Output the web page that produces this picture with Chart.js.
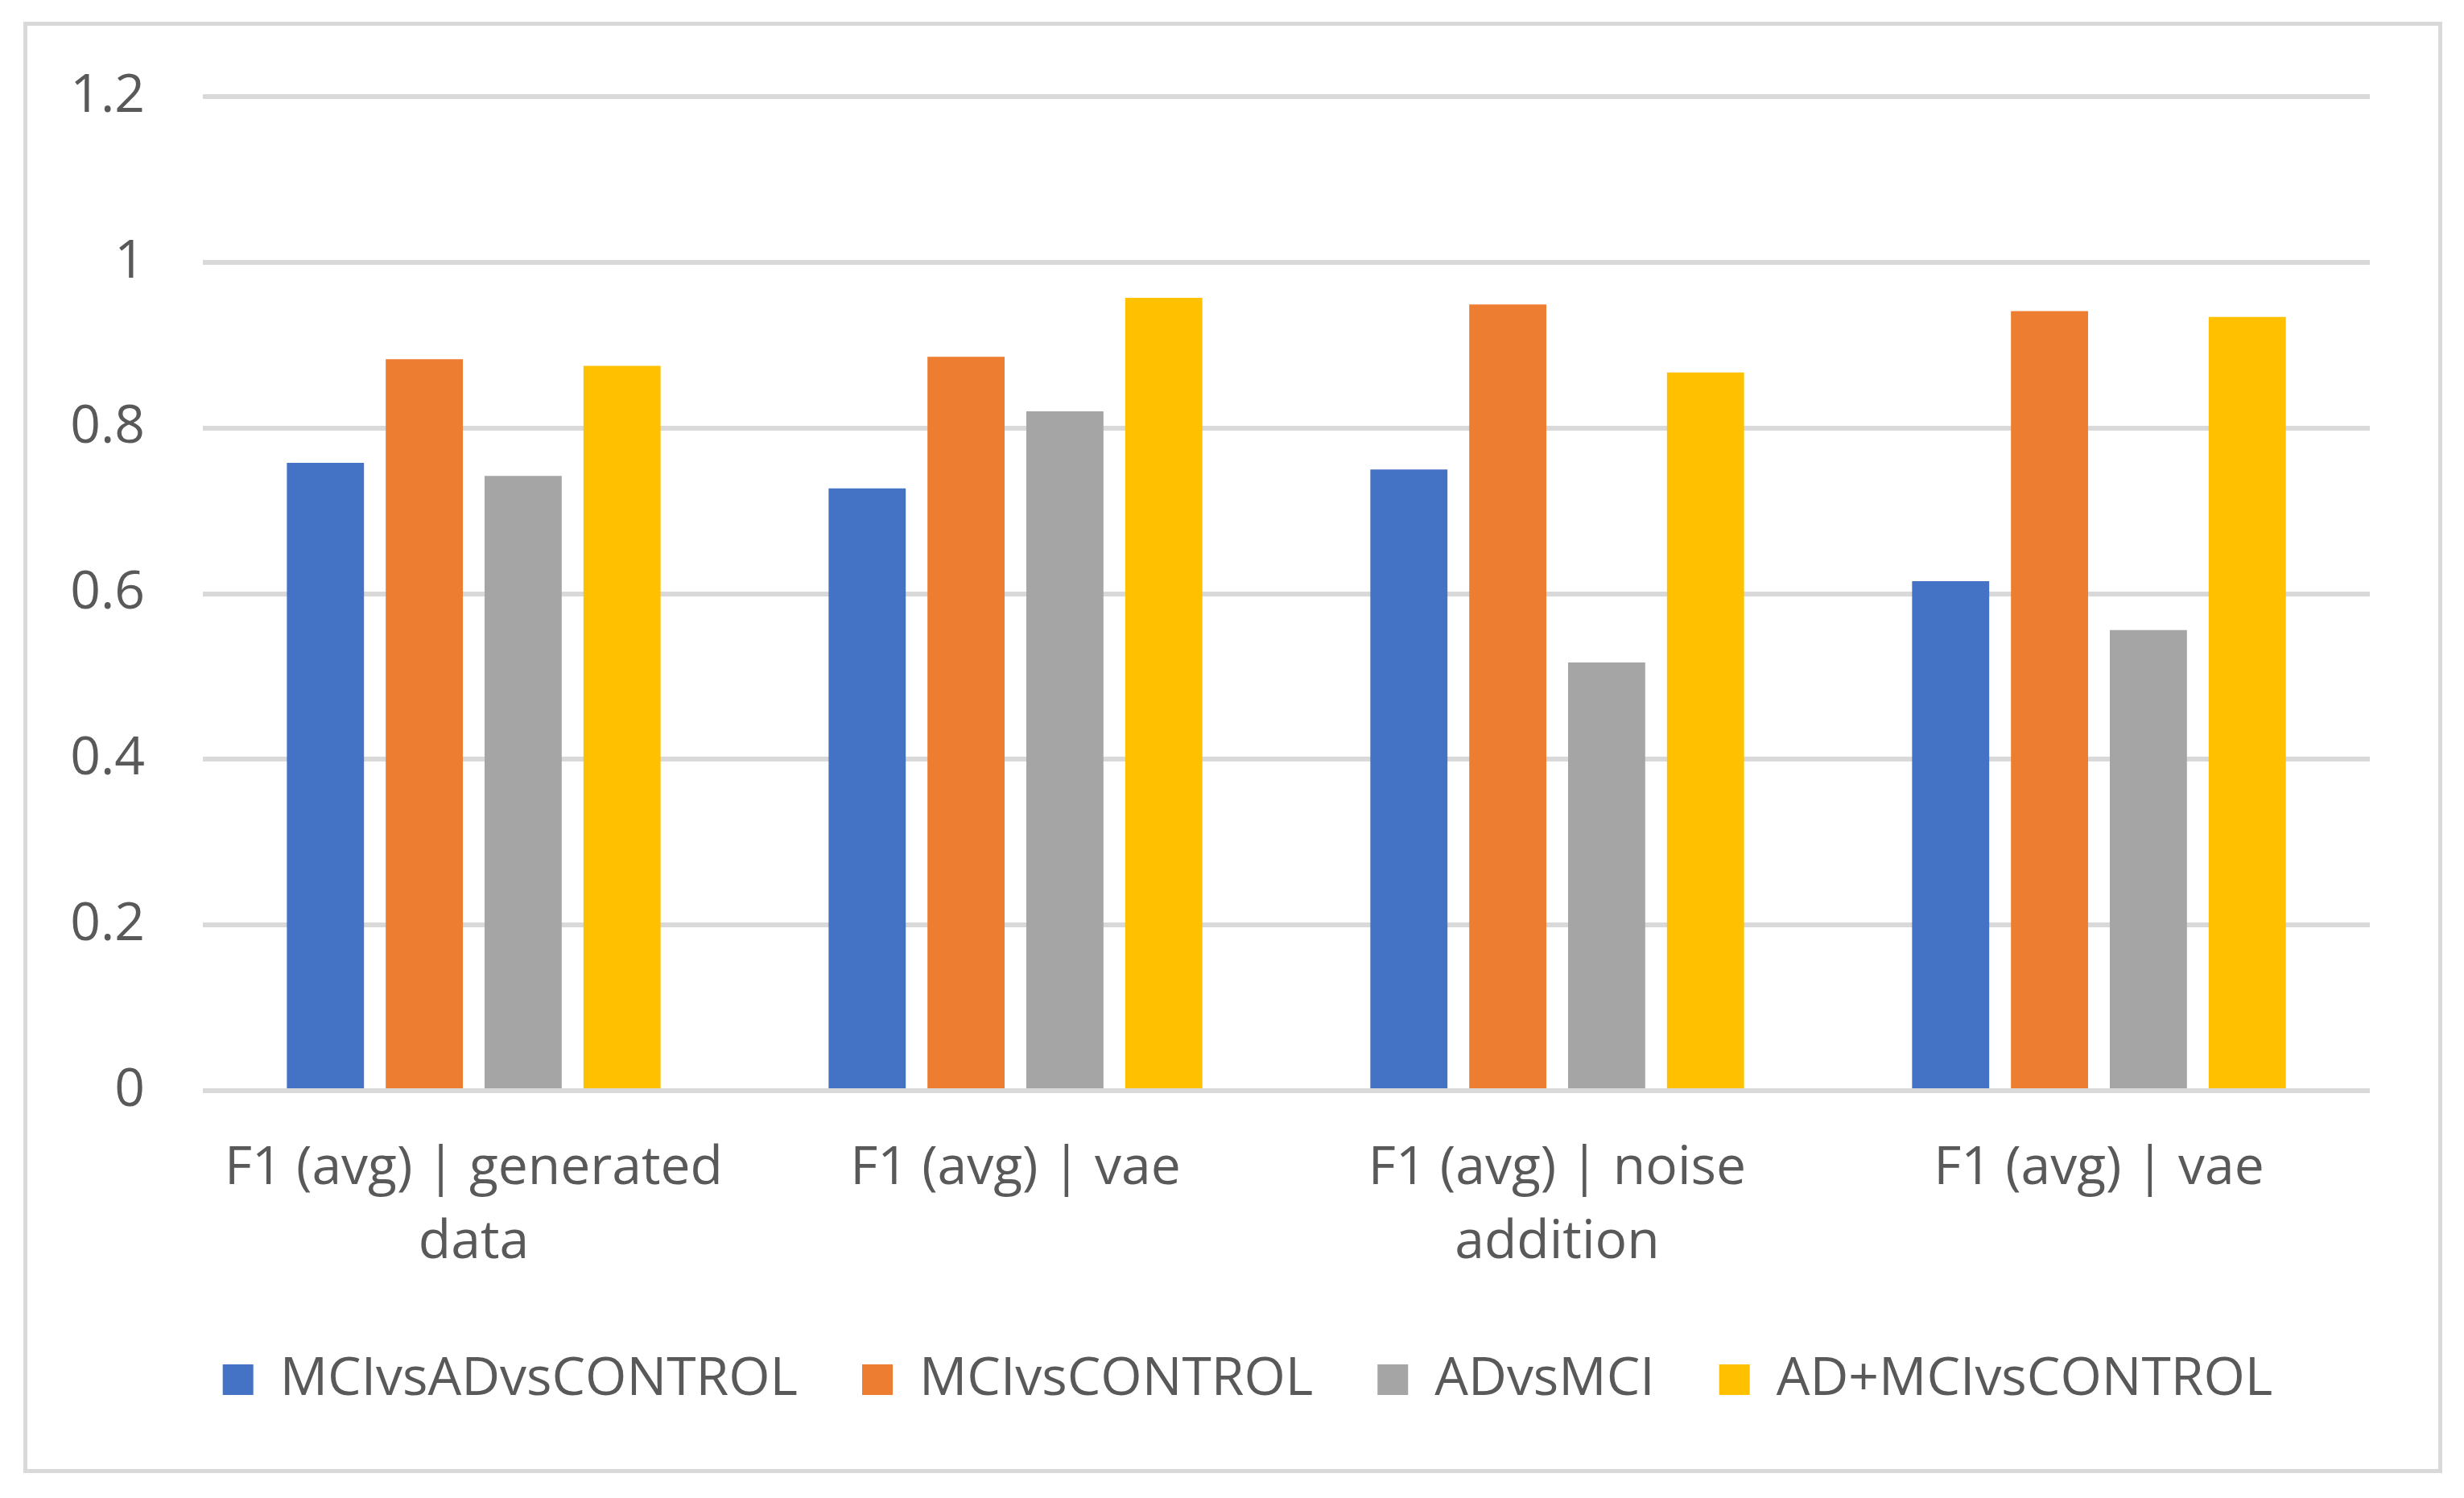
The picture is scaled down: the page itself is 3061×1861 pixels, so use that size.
<!DOCTYPE html>
<html>
<head>
<title>F1 bar chart</title>
<script src="https://cdn.jsdelivr.net/npm/chart.js@4.4.0/dist/chart.umd.min.js"></script>
<style>
body { margin: 0; background: #fff; }
#frame {
    position: absolute; left: 29px; top: 27px;
    width: 3005px; height: 1803px;
    border: 5px solid #d9d9d9; box-sizing: border-box;
}
</style>
</head>
<body>
<div id="frame"><canvas id="myCanvas"></canvas></div>
<script>
var categories = [["F1 (avg) | generated", "data"], "F1 (avg) | vae", ["F1 (avg) | noise", "addition"], "F1 (avg) | vae"];
var seriesNames = ["MCIvsADvsCONTROL", "MCIvsCONTROL", "ADvsMCI", "AD+MCIvsCONTROL"];
var mciAdControl = [0.758, 0.727, 0.750, 0.615];
var mciControl = [0.883, 0.886, 0.949, 0.941];
var adMci = [0.742, 0.820, 0.517, 0.556];
var adMciControl = [0.875, 0.957, 0.867, 0.934];
var yTicks = [0, 0.2, 0.4, 0.6, 0.8, 1, 1.2];

var colors = ["#4472c4", "#ed7d31", "#a5a5a5", "#ffc000"];
var values = [mciAdControl, mciControl, adMci, adMciControl];

Chart.defaults.font.family = "'Open Sans', sans-serif";
Chart.defaults.color = "#595959";

new Chart(document.getElementById("myCanvas"), {
    type: 'bar',
    data: {
        labels: categories,
        datasets: seriesNames.map(function(name, i) {
            return {
                label: name,
                data: values[i],
                backgroundColor: colors[i],
                categoryPercentage: 0.73,
                barPercentage: 0.78
            };
        })
    },
    options: {
        responsive: true,
        maintainAspectRatio: false,
        animation: false,
        // small right padding + empty right axis: legend sits a bit right of centre, like the original
        layout: { padding: { left: 40, right: 3, top: 88, bottom: 68 } },
        plugins: {
            tooltip: { enabled: false },
            legend: {
                position: 'bottom',
                labels: {
                    boxWidth: 38,
                    boxHeight: 38,
                    padding: 80,
                    font: { size: 66 }
                }
            }
        },
        scales: {
            x: {
                grid: { display: false },
                border: { display: false },
                ticks: { font: { size: 66, lineHeight: 1.4 }, padding: 43, maxRotation: 0 },
                afterFit: function(s) { s.height = 246; }
            },
            y: {
                min: 0,
                max: 1.2,
                border: { display: false },
                // invisible tick marks give the gap between labels and plot
                grid: { color: "#d9d9d9", lineWidth: 6, drawTicks: true, tickLength: 72, tickColor: "rgba(0,0,0,0)" },
                ticks: {
                    font: { size: 66 },
                    padding: 0,
                    callback: function(v) { return String(Math.round(v * 10) / 10); }
                },
                afterBuildTicks: function(s) {
                    s.ticks = yTicks.map(function(v) { return { value: v }; });
                },
                afterFit: function(s) { s.width = 178; }
            },
            yRight: {
                position: 'right',
                grid: { display: false },
                border: { display: false },
                ticks: { display: false },
                afterFit: function(s) { s.width = 82; }
            }
        }
    }
});
</script>
</body>
</html>
